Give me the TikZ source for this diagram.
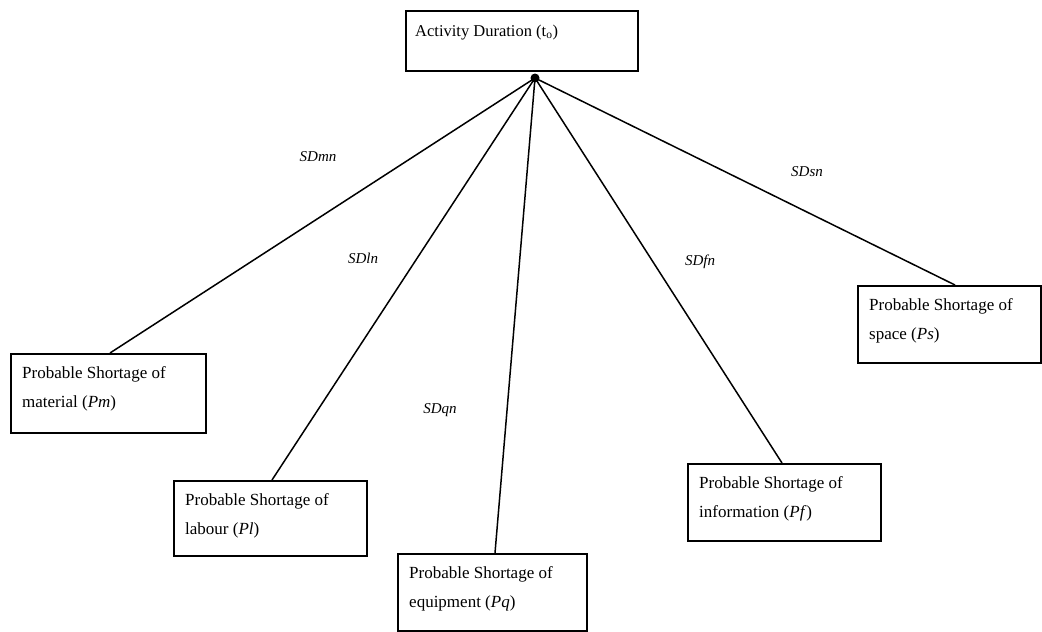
\documentclass[tikz,border=0pt]{standalone}
\usepackage{fontspec}
\setmainfont{Liberation Serif}
\usetikzlibrary{calc}
\begin{document}
\begin{tikzpicture}[x=1pt,y=-1pt,
  box/.style={draw,line width=1.6pt,rectangle,anchor=north west,inner sep=0pt},
  boxtext/.style={anchor=north west,align=left,inner sep=0pt,
    font=\fontsize{17}{29}\selectfont},
  link/.style={line width=1.5pt},
  sd/.style={font=\fontsize{15}{18}\selectfont\itshape}]
\useasboundingbox (0,0) rectangle (1042,632);

% top box
\node[box,minimum width=232pt,minimum height=60pt] (top) at (405,10) {};
\node[anchor=base west,inner sep=0pt,font=\fontsize{16.5}{18}\selectfont] (toptxt) at (415,36) {Activity Duration (t\textsubscript{o})};
\coordinate (hub) at (535,78);
\fill (hub) circle (4.5pt);

% shortage boxes
\node[box,minimum width=195pt,minimum height=79pt] (pm) at (10,353) {};
\node[boxtext] (pmtxt) at ([shift={(12,13)}]pm.north west) {Probable Shortage of\\material (\textit{Pm})};

\node[box,minimum width=193pt,minimum height=75pt] (pl) at (173,480) {};
\node[boxtext] (pltxt) at ([shift={(12,13)}]pl.north west) {Probable Shortage of\\labour (\textit{Pl})};

\node[box,minimum width=189pt,minimum height=77pt] (pq) at (397,553) {};
\node[boxtext] (pqtxt) at ([shift={(12,13)}]pq.north west) {Probable Shortage of\\equipment (\textit{Pq})};

\node[box,minimum width=193pt,minimum height=77pt] (pf) at (687,463) {};
\node[boxtext] (pftxt) at ([shift={(12,13)}]pf.north west) {Probable Shortage of\\information (\textit{Pf})};

\node[box,minimum width=183pt,minimum height=77pt] (ps) at (857,285) {};
\node[boxtext] (pstxt) at ([shift={(12,13)}]ps.north west) {Probable Shortage of\\space (\textit{Ps})};

% connectors from the hub
\draw[link] (hub) -- ([xshift=100pt]pm.north west);
\draw[link] (hub) -- ([xshift=99pt]pl.north west);
\draw[link] (hub) -- ([xshift=98pt]pq.north west);
\draw[link] (hub) -- ([xshift=95pt]pf.north west);
\draw[link] (hub) -- ([xshift=98pt]ps.north west);

% connector labels
\node[sd] (lm) at (318,157) {SDmn};
\node[sd] (ll) at (363,258) {SDln};
\node[sd] (lq) at (440,410) {SDqn};
\node[sd] (lf) at (700,262) {SDfn};
\node[sd] (ls) at (807,172) {SDsn};
\end{tikzpicture}
\end{document}
